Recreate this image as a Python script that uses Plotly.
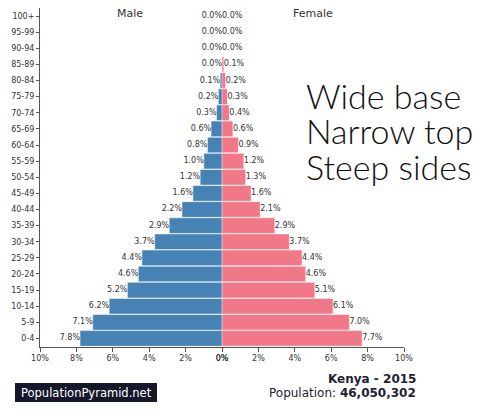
import plotly.graph_objects as go

W, H = 487, 418
OFF = 8  # page body margin in the browser

age_groups = ["0-4", "5-9", "10-14", "15-19", "20-24", "25-29", "30-34", "35-39",
              "40-44", "45-49", "50-54", "55-59", "60-64", "65-69", "70-74", "75-79",
              "80-84", "85-89", "90-94", "95-99", "100+"]
male = [7.8, 7.1, 6.2, 5.2, 4.6, 4.4, 3.7, 2.9, 2.2, 1.6, 1.2, 1.0, 0.8, 0.6,
        0.3, 0.2, 0.1, 0.0, 0.0, 0.0, 0.0]
female = [7.7, 7.0, 6.1, 5.1, 4.6, 4.4, 3.7, 2.9, 2.1, 1.6, 1.3, 1.2, 0.9, 0.6,
          0.4, 0.3, 0.2, 0.1, 0.0, 0.0, 0.0]
x_ticks = [0, 2, 4, 6, 8, 10]
x_tick_labels = ["0%", "2%", "4%", "6%", "8%", "10%"]
notes = ["Wide base", "Narrow top", "Steep sides"]

BLUE = "#4682b4"
PINK = "#f07888"
AX = "#555555"
TXT = "#333333"
FONT = "DejaVu Sans"

def px(x):
    return (x - OFF) / W

def py(y):
    return 1 - (y - OFF) / H

left_dom = [px(40), px(222)]
right_dom = [px(222), px(404)]
y_dom = [py(346.5), py(8)]

fig = go.Figure()
fig.add_trace(go.Bar(y=age_groups, x=male, orientation="h", marker=dict(color=BLUE,
                     line=dict(color="rgba(255,255,255,0.5)", width=1)),
                     xaxis="x", yaxis="y", showlegend=False, hoverinfo="skip"))
fig.add_trace(go.Bar(y=age_groups, x=female, orientation="h", marker=dict(color=PINK,
                     line=dict(color="rgba(255,255,255,0.5)", width=1)),
                     xaxis="x2", yaxis="y", showlegend=False, hoverinfo="skip"))
fig.add_trace(go.Scatter(y=age_groups, x=male, mode="text",
                         text=[f"{v:.1f}%" for v in male], textposition="middle left",
                         textfont=dict(family=FONT, size=8, color=TXT),
                         xaxis="x", yaxis="y", showlegend=False, hoverinfo="skip", cliponaxis=False))
fig.add_trace(go.Scatter(y=age_groups, x=female, mode="text",
                         text=[f"{v:.1f}%" for v in female], textposition="middle right",
                         textfont=dict(family=FONT, size=8, color=TXT),
                         xaxis="x2", yaxis="y", showlegend=False, hoverinfo="skip", cliponaxis=False))

axis_common = dict(showgrid=False, zeroline=False, showline=True, linecolor=AX, linewidth=1,
                   ticks="outside", ticklen=4, tickcolor=AX, tickwidth=1, automargin=False,
                   tickfont=dict(family=FONT, size=8, color=TXT),
                   tickvals=x_ticks, ticktext=x_tick_labels, fixedrange=True)

def ann(x, y, text, size, color, xanchor="center", family=FONT, weight="normal"):
    return dict(x=px(x), y=py(y), xref="paper", yref="paper", text=text, showarrow=False,
                xanchor=xanchor, yanchor="middle",
                font=dict(family=family, size=size, color=color, weight=weight))

annotations = [
    ann(130, 14, "Male", 11, TXT),
    ann(313, 14, "Female", 11, TXT),
    ann(418, 379, "<b>Kenya - 2015</b>", 12, "#222233", "right"),
    ann(418, 393, "Population: <b>46,050,302</b>", 12, "#222233", "right"),
    ann(86, 392.5, "PopulationPyramid.net", 11.5, "white"),
]
for i, t in enumerate(notes):
    annotations.append(ann(304, 95 + 35.5 * i, t, 34, "#111111", "left", "Lato", 300))

fig.update_layout(
    width=W, height=H, margin=dict(l=0, r=0, t=0, b=0, pad=0, autoexpand=False),
    paper_bgcolor="white", plot_bgcolor="white",
    barmode="overlay", bargap=0.03,
    xaxis=dict(domain=left_dom, range=[10, 0], anchor="y", **axis_common),
    xaxis2=dict(domain=right_dom, range=[0, 10], anchor="y", **axis_common),
    yaxis=dict(domain=y_dom, anchor="x", type="category", categoryorder="array",
               categoryarray=age_groups, range=[-0.5, 20.5], showgrid=False, zeroline=False,
               showline=True, linecolor=AX, linewidth=1, ticks="outside", ticklen=3,
               automargin=False,
               tickcolor=AX, tickfont=dict(family=FONT, size=8, color=TXT), fixedrange=True),
    shapes=[dict(type="rect", xref="paper", yref="paper", x0=px(15), x1=px(157),
                 y0=py(402), y1=py(383), fillcolor="#15182b", line=dict(width=0), layer="below")],
    annotations=annotations,
)

fig.write_html("out.html")
